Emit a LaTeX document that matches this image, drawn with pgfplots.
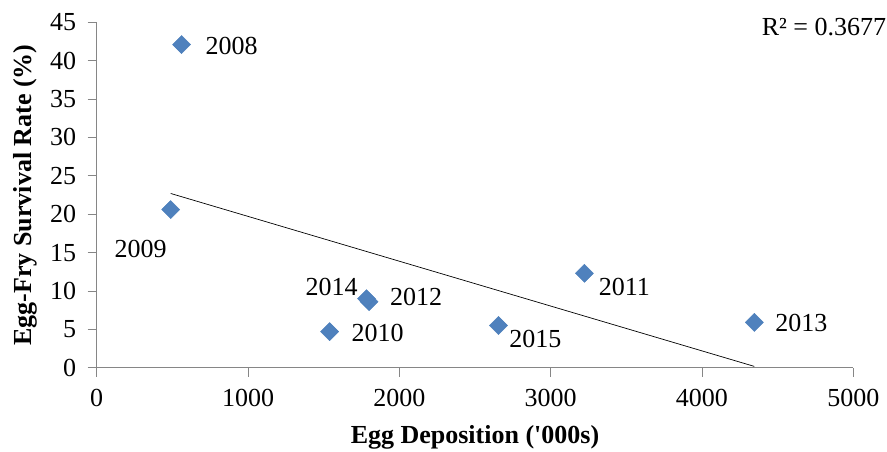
\documentclass[border=0pt]{standalone}
\usepackage{fontspec}
\setmainfont{Liberation Serif}
\usepackage{pgfplots}
\pgfplotsset{compat=1.18}

\definecolor{diam}{HTML}{4F81BD}
\definecolor{diamedge}{HTML}{4A7EBB}
\definecolor{axisgray}{HTML}{868686}

\newcommand{\chartfont}{\fontsize{26}{31}\selectfont}

\begin{document}
\begin{tikzpicture}
\useasboundingbox (-96.7pt,-83.3pt) rectangle (790.3pt,367.7pt);
\begin{axis}[
    at={(0pt,0pt)}, anchor=origin,
    scale only axis, width=756.6pt, height=345.4pt,
    xmin=0, xmax=5000, ymin=0, ymax=45,
    xtick={0,1000,...,5000}, ytick={0,5,...,45},
    axis x line*=bottom, axis y line*=left,
    axis line style={axisgray, line width=0.8pt},
    tick style={axisgray, line width=0.8pt},
    tick align=outside, major tick length=9pt,
    /pgf/number format/assume math mode=true,
    /pgf/number format/1000 sep={},
    tick label style={font=\chartfont},
    xticklabel style={yshift=-9pt},
    yticklabel style={xshift=-8pt},
    label style={font=\bfseries\chartfont},
    xlabel={Egg Deposition (\textquotesingle 000s)},
    ylabel={Egg-Fry Survival Rate (\%)},
    xlabel style={at={(axis description cs:0.5,0)}, anchor=center, yshift=-70pt},
    ylabel style={at={(axis description cs:0,0.5)}, anchor=center, yshift=71pt},
    clip=false,
]
\addplot[only marks, mark=square*, mark size=6.4pt,
    mark options={rotate=45, fill=diam, draw=diamedge},
    nodes near coords, point meta=explicit symbolic,
    visualization depends on={\thisrow{dx}\as\dx},
    visualization depends on={\thisrow{dy}\as\dy},
    every node near coord/.append style={anchor=center, font=\chartfont, text=black,
        xshift=\dx pt, yshift=\dy pt}]
  table[x=x, y=y, meta=label] {
    x     y     dx   dy   label
    561   42.1  50   -1   2008
    489   20.6  -30  -39  2009
    1539  4.7   48   -1   2010
    3223  12.3  40   -14  2011
    1800  8.6   47   5    2012
    4346  5.9   47   -1   2013
    1783  9.0   -35  12   2014
    2655  5.5   37   -13  2015
  };
% linear trend line
\addplot[black, line width=0.7pt] coordinates {(489,22.7) (4346,0.17)};
\node[anchor=east, font=\chartfont, inner sep=0pt] at (axis description cs:1.0436,0.9855) {R² = 0.3677};
\end{axis}
\end{tikzpicture}
\end{document}
